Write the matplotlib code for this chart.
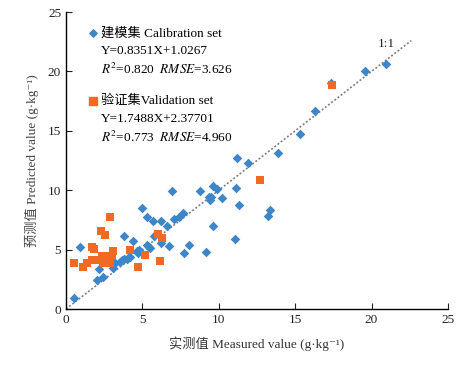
import matplotlib
matplotlib.use("Agg")
import matplotlib.pyplot as plt

plt.rcParams['font.family'] = ['Liberation Serif', 'Noto Sans CJK SC', 'DejaVu Sans']
plt.rcParams['mathtext.fontset'] = 'stix'

# Calibration set (measured, predicted)
cal_x = [0.54, 0.89, 2.05, 2.40, 2.18, 3.09, 3.20, 3.53, 3.64, 3.79, 4.40, 3.79, 3.97, 4.07,
         4.18, 4.62, 4.73, 4.79, 4.99, 5.29, 5.71, 6.25, 7.04, 7.39, 7.69, 6.60, 5.75,
         6.19, 6.75, 8.08, 5.31, 5.44, 5.53, 7.71, 9.15, 9.59, 6.93, 8.78, 9.59, 9.89,
         9.37, 9.50, 9.41, 10.20, 11.10, 11.30, 11.07, 11.20, 11.94, 13.90, 15.30, 16.30,
         19.60, 20.96, 13.33, 13.20, 17.35]
cal_y = [0.95, 5.25, 2.44, 2.72, 3.34, 3.42, 3.85, 3.98, 4.12, 6.14, 5.75, 4.23, 4.18, 4.27,
         4.40, 4.85, 4.69, 4.97, 8.48, 7.77, 7.38, 7.43, 7.55, 7.74, 8.08, 6.96, 6.14,
         5.53, 5.33, 5.41, 5.41, 5.24, 5.10, 4.69, 4.83, 6.96, 9.93, 9.90, 10.35, 10.07,
         9.45, 9.40, 9.18, 9.37, 10.16, 8.73, 5.87, 12.75, 12.30, 13.10, 14.70, 16.70,
         20.00, 20.60, 8.36, 7.85, 19.05]

# Validation set (measured, predicted)
val_x = [0.54, 1.13, 1.39, 1.68, 1.92, 1.68, 1.83, 2.27, 2.55, 2.88, 2.33, 2.66, 2.99, 3.05,
         2.40, 2.88, 4.18, 4.72, 5.20, 6.01, 6.27, 6.14, 12.70, 17.40]
val_y = [3.90, 3.56, 3.90, 4.12, 4.12, 5.25, 5.03, 6.59, 6.23, 7.72, 4.50, 4.50, 4.50, 4.91,
         3.85, 3.85, 4.97, 3.56, 4.52, 6.29, 5.95, 4.07, 10.90, 18.90]

ticks = [0, 5, 10, 15, 20, 25]
line_11 = [0, 22.6]

blue = '#3d86c8'
orange = '#f06a24'

fig = plt.figure(figsize=(4.63, 3.65), dpi=100)
ax = fig.add_axes([0.1425, 0.1534, 0.825, 0.8136])

ax.plot(line_11, line_11, linestyle=(0, (1.2, 1.2)), color='#808080', lw=1.2, zorder=1)
ax.text(21.0, 22.3, '1:1', fontsize=9.5, ha='center', va='center', color='#222222')

ax.scatter(cal_x, cal_y, marker='D', s=24, color=blue, zorder=3, linewidths=0)
ax.scatter(val_x, val_y, marker='s', s=34, color=orange, zorder=3, linewidths=0)

ax.set_xlim(0, 25)
ax.set_ylim(0, 25)
ax.set_xticks(ticks)
ax.set_yticks(ticks)
ax.tick_params(direction='in', length=4, labelsize=9.5, colors='#222222')
for s in ['top', 'right']:
    ax.spines[s].set_visible(False)
for s in ['left', 'bottom']:
    ax.spines[s].set_linewidth(1.0)

ax.set_xlabel('实测值 Measured value (g·kg⁻¹)', fontsize=9.5, color='#333333', labelpad=8)
ax.set_ylabel('预测值 Predicted value (g·kg⁻¹)', fontsize=9.5, color='#444444', labelpad=6)

fs = 9.5
tx = 0.092
ax.scatter([0.072], [0.929], marker='D', s=14, color=blue, transform=ax.transAxes, clip_on=False)
ax.text(tx, 0.929, '建模集 Calibration set', transform=ax.transAxes, fontsize=fs, va='center')
ax.text(tx, 0.869, 'Y=0.8351X+1.0267', transform=ax.transAxes, fontsize=fs, va='center')
ax.text(tx, 0.808, '$R^2$=0.820  $RMSE$=3.626', transform=ax.transAxes, fontsize=fs, va='center')
ax.scatter([0.072], [0.700], marker='s', s=28, color=orange, transform=ax.transAxes, clip_on=False)
ax.text(tx, 0.700, '验证集Validation set', transform=ax.transAxes, fontsize=fs, va='center')
ax.text(tx, 0.640, 'Y=1.7488X+2.37701', transform=ax.transAxes, fontsize=fs, va='center')
ax.text(tx, 0.579, '$R^2$=0.773  $RMSE$=4.960', transform=ax.transAxes, fontsize=fs, va='center')

fig.savefig('out.png', dpi=100)
